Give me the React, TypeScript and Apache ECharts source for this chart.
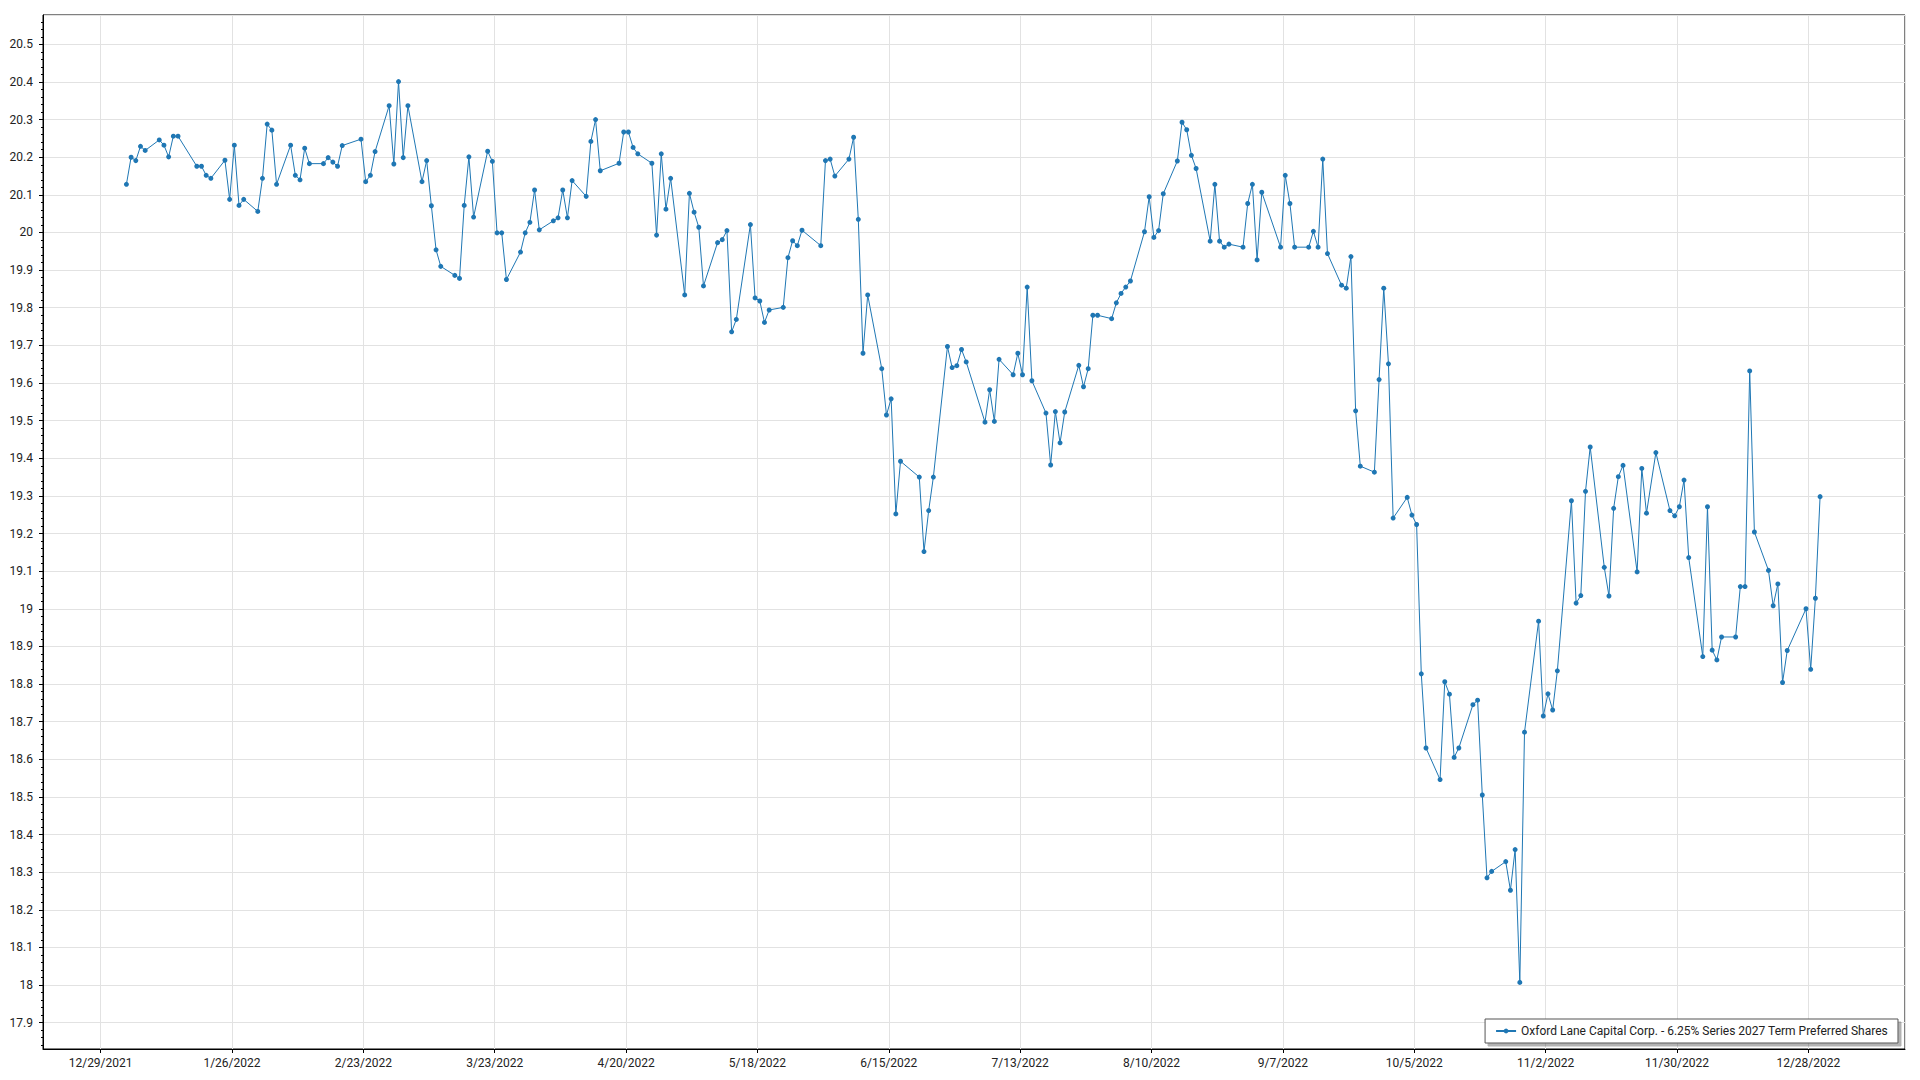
import React, { useEffect, useRef } from "react";
import * as echarts from "echarts";

const SERIES_NAME = "Oxford Lane Capital Corp. - 6.25% Series 2027 Term Preferred Shares";

// Trading days (2022) and closing prices
const dates: string[] = [
  "2022-01-03","2022-01-04","2022-01-05","2022-01-06","2022-01-07","2022-01-10","2022-01-11","2022-01-12","2022-01-13","2022-01-14","2022-01-18","2022-01-19","2022-01-20","2022-01-21","2022-01-24","2022-01-25","2022-01-26","2022-01-27","2022-01-28","2022-01-31",
  "2022-02-01","2022-02-02","2022-02-03","2022-02-04","2022-02-07","2022-02-08","2022-02-09","2022-02-10","2022-02-11","2022-02-14","2022-02-15","2022-02-16","2022-02-17","2022-02-18","2022-02-22","2022-02-23","2022-02-24","2022-02-25","2022-02-28",
  "2022-03-01","2022-03-02","2022-03-03","2022-03-04","2022-03-07","2022-03-08","2022-03-09","2022-03-10","2022-03-11","2022-03-14","2022-03-15","2022-03-16","2022-03-17","2022-03-18","2022-03-21","2022-03-22","2022-03-23","2022-03-24","2022-03-25","2022-03-28","2022-03-29","2022-03-30","2022-03-31",
  "2022-04-01","2022-04-04","2022-04-05","2022-04-06","2022-04-07","2022-04-08","2022-04-11","2022-04-12","2022-04-13","2022-04-14","2022-04-18","2022-04-19","2022-04-20","2022-04-21","2022-04-22","2022-04-25","2022-04-26","2022-04-27","2022-04-28","2022-04-29",
  "2022-05-02","2022-05-03","2022-05-04","2022-05-05","2022-05-06","2022-05-09","2022-05-10","2022-05-11","2022-05-12","2022-05-13","2022-05-16","2022-05-17","2022-05-18","2022-05-19","2022-05-20","2022-05-23","2022-05-24","2022-05-25","2022-05-26","2022-05-27","2022-05-31",
  "2022-06-01","2022-06-02","2022-06-03","2022-06-06","2022-06-07","2022-06-08","2022-06-09","2022-06-10","2022-06-13","2022-06-14","2022-06-15","2022-06-16","2022-06-17","2022-06-21","2022-06-22","2022-06-23","2022-06-24","2022-06-27","2022-06-28","2022-06-29","2022-06-30",
  "2022-07-01","2022-07-05","2022-07-06","2022-07-07","2022-07-08","2022-07-11","2022-07-12","2022-07-13","2022-07-14","2022-07-15","2022-07-18","2022-07-19","2022-07-20","2022-07-21","2022-07-22","2022-07-25","2022-07-26","2022-07-27","2022-07-28","2022-07-29",
  "2022-08-01","2022-08-02","2022-08-03","2022-08-04","2022-08-05","2022-08-08","2022-08-09","2022-08-10","2022-08-11","2022-08-12","2022-08-15","2022-08-16","2022-08-17","2022-08-18","2022-08-19","2022-08-22","2022-08-23","2022-08-24","2022-08-25","2022-08-26","2022-08-29","2022-08-30","2022-08-31",
  "2022-09-01","2022-09-02","2022-09-06","2022-09-07","2022-09-08","2022-09-09","2022-09-12","2022-09-13","2022-09-14","2022-09-15","2022-09-16","2022-09-19","2022-09-20","2022-09-21","2022-09-22","2022-09-23","2022-09-26","2022-09-27","2022-09-28","2022-09-29","2022-09-30",
  "2022-10-03","2022-10-04","2022-10-05","2022-10-06","2022-10-07","2022-10-10","2022-10-11","2022-10-12","2022-10-13","2022-10-14","2022-10-17","2022-10-18","2022-10-19","2022-10-20","2022-10-21","2022-10-24","2022-10-25","2022-10-26","2022-10-27","2022-10-28","2022-10-31",
  "2022-11-01","2022-11-02","2022-11-03","2022-11-04","2022-11-07","2022-11-08","2022-11-09","2022-11-10","2022-11-11","2022-11-14","2022-11-15","2022-11-16","2022-11-17","2022-11-18","2022-11-21","2022-11-22","2022-11-23","2022-11-25","2022-11-28","2022-11-29","2022-11-30",
  "2022-12-01","2022-12-02","2022-12-05","2022-12-06","2022-12-07","2022-12-08","2022-12-09","2022-12-12","2022-12-13","2022-12-14","2022-12-15","2022-12-16","2022-12-19","2022-12-20","2022-12-21","2022-12-22","2022-12-23","2022-12-27","2022-12-28","2022-12-29","2022-12-30",
];

const prices: number[] = [
  20.128,20.2,20.191,20.229,20.218,20.246,20.232,20.201,20.256,20.256,20.176,20.176,20.152,20.144,20.192,20.088,20.232,20.072,20.088,20.056,
  20.144,20.288,20.272,20.128,20.232,20.152,20.14,20.224,20.183,20.183,20.199,20.187,20.176,20.231,20.248,20.135,20.152,20.215,20.337,
  20.182,20.401,20.199,20.337,20.135,20.191,20.071,19.954,19.91,19.886,19.878,20.072,20.201,20.041,20.216,20.189,19.999,19.999,19.875,19.948,19.999,20.027,20.113,
  20.007,20.031,20.039,20.113,20.039,20.138,20.096,20.242,20.3,20.164,20.184,20.267,20.267,20.226,20.209,20.184,19.993,20.209,20.062,20.144,
  19.834,20.104,20.054,20.014,19.858,19.973,19.981,20.005,19.736,19.769,20.021,19.826,19.818,19.761,19.794,19.801,19.933,19.978,19.965,20.006,19.965,
  20.191,20.195,20.15,20.195,20.253,20.035,19.679,19.834,19.638,19.515,19.558,19.252,19.392,19.35,19.152,19.261,19.35,19.697,19.641,19.646,19.689,
  19.656,19.496,19.582,19.498,19.663,19.622,19.679,19.622,19.855,19.606,19.52,19.382,19.524,19.441,19.523,19.647,19.59,19.638,19.78,19.78,
  19.771,19.813,19.838,19.855,19.871,20.002,20.095,19.987,20.005,20.103,20.19,20.293,20.273,20.205,20.17,19.977,20.128,19.977,19.961,19.969,19.961,20.077,20.128,
  19.927,20.107,19.961,20.152,20.077,19.961,19.961,20.003,19.961,20.195,19.944,19.86,19.852,19.936,19.526,19.379,19.363,19.609,19.852,19.651,19.241,
  19.296,19.249,19.224,18.827,18.63,18.546,18.806,18.773,18.605,18.63,18.745,18.757,18.505,18.285,18.302,18.328,18.252,18.36,18.007,18.672,18.967,
  18.715,18.774,18.731,18.835,19.287,19.015,19.035,19.312,19.43,19.11,19.034,19.267,19.351,19.381,19.098,19.373,19.254,19.415,19.261,19.247,19.271,
  19.342,19.136,18.873,19.271,18.89,18.864,18.925,18.925,19.059,19.059,19.632,19.204,19.102,19.008,19.066,18.804,18.889,19.0,18.839,19.028,19.298,
];

// Axis settings (x in days from the first labelled date 12/29/2021)
const X_ORIGIN = Date.UTC(2021, 11, 29);
const DAY_MS = 86400000;
const X_MIN = -12.28;
const X_MAX = 384.6;
const X_STEP = 28;
const Y_MIN = 17.83;
const Y_MAX = 20.578;
const Y_STEP = 0.1;
const Y_MINOR_STEP = 0.02;

const FONT = "Roboto";

function dayOffset(s: string): number {
  const [y, m, d] = s.split("-").map(Number);
  return (Date.UTC(y, m - 1, d) - X_ORIGIN) / DAY_MS + 0.5;
}

function formatDay(v: number): string {
  const t = new Date(X_ORIGIN + Math.round(v) * DAY_MS);
  return `${t.getUTCMonth() + 1}/${t.getUTCDate()}/${t.getUTCFullYear()}`;
}

function minorTicks(): number[] {
  const out: number[] = [];
  for (let k = Math.ceil(Y_MIN / Y_MINOR_STEP - 1e-9); k * Y_MINOR_STEP <= Y_MAX + 1e-9; k++) {
    out.push(+(k * Y_MINOR_STEP).toFixed(2));
  }
  return out;
}

export default function App() {
  const ref = useRef<HTMLDivElement>(null);

  useEffect(() => {
    if (!ref.current) return;
    const chart = echarts.init(ref.current, null, { renderer: "svg" });
    const data = dates.map((d, i) => [dayOffset(d), prices[i]]);

    chart.setOption({
      animation: false,
      backgroundColor: "#ffffff",
      textStyle: { fontFamily: FONT },
      grid: {
        left: 43,
        right: 15,
        top: 15,
        bottom: 31,
        show: true,
        borderColor: "#000000",
        borderWidth: 1,
        backgroundColor: "transparent",
      },
      legend: {
        data: [SERIES_NAME],
        right: 22,
        bottom: 37,
        backgroundColor: "#ffffff",
        borderColor: "#555555",
        borderWidth: 1,
        padding: [6, 10, 6, 10],
        itemWidth: 20,
        itemHeight: 6,
        shadowColor: "rgba(0,0,0,0.3)",
        shadowOffsetX: 3,
        shadowOffsetY: 3,
        shadowBlur: 1,
        textStyle: { fontFamily: FONT, fontSize: 12, color: "#222222" },
      },
      xAxis: {
        type: "value",
        min: X_MIN,
        max: X_MAX,
        minInterval: X_STEP,
        maxInterval: X_STEP,
        axisLine: { show: true, onZero: false, lineStyle: { color: "#000000", width: 1 } },
        axisTick: { show: true, length: 4, lineStyle: { color: "#000000" } },
        axisLabel: {
          show: true,
          showMinLabel: false,
          showMaxLabel: false,
          margin: 8,
          fontFamily: FONT,
          fontSize: 12,
          color: "#222222",
          formatter: (v: number) => formatDay(v),
        },
        splitLine: { show: true, lineStyle: { color: "#e2e2e2", width: 1 } },
      },
      yAxis: [
        {
          type: "value",
          position: "left",
          min: Y_MIN,
          max: Y_MAX,
          minInterval: Y_STEP,
          maxInterval: Y_STEP,
          axisLine: { show: true, onZero: false, lineStyle: { color: "#000000", width: 1 } },
          axisTick: { show: true, length: 4, lineStyle: { color: "#000000" } },
          axisLabel: {
            show: true,
            showMinLabel: false,
            showMaxLabel: false,
            margin: 10,
            fontFamily: FONT,
            fontSize: 12,
            color: "#222222",
            formatter: (v: number) => String(+v.toFixed(1)),
          },
          splitLine: { show: true, lineStyle: { color: "#e2e2e2", width: 1 } },
        },
        {
          type: "value",
          position: "left",
          min: Y_MIN,
          max: Y_MAX,
          axisLine: { show: false, onZero: false },
          axisLabel: { show: false },
          splitLine: { show: false },
          axisTick: {
            show: true,
            length: 2,
            customValues: minorTicks(),
            lineStyle: { color: "#000000" },
          },
        },
      ],
      series: [
        {
          name: SERIES_NAME,
          type: "line",
          data,
          yAxisIndex: 0,
          symbol: "circle",
          symbolSize: 5,
          showSymbol: true,
          lineStyle: { color: "#1f77b4", width: 1 },
          itemStyle: { color: "#1f77b4" },
          emphasis: { disabled: true },
        },
      ],
    });

    return () => chart.dispose();
  }, []);

  return (
    <div
      ref={ref}
      style={{ position: "fixed", left: 0, top: 0, width: 1920, height: 1080, background: "#fff" }}
    />
  );
}
